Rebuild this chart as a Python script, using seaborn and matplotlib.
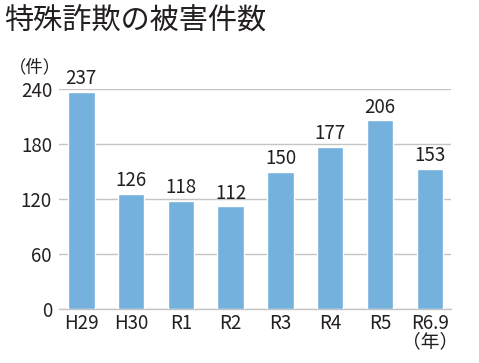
import seaborn as sns
import matplotlib.pyplot as plt
import pandas as pd

# data
years = ["H29", "H30", "R1", "R2", "R3", "R4", "R5", "R6.9\n（年）"]
cases = [237, 126, 118, 112, 150, 177, 206, 153]
yticks = [0, 60, 120, 180, 240]

df = pd.DataFrame({"year": years, "cases": cases})

sns.set_style("white")
plt.rcParams['font.family'] = ['Noto Sans CJK JP', 'DejaVu Sans']
text_color = "#231f20"
grid_color = "#c4c4c4"

fig = plt.figure(figsize=(4.79, 3.63), dpi=100)
ax = fig.add_axes([0.123, 0.149, 0.819, 0.605])

sns.barplot(x="year", y="cases", data=df, color="#74b1dd", width=0.53,
            saturation=1, ax=ax, zorder=3)

ax.set_ylim(0, 240)
ax.set_xlim(-0.45, 7.43)
ax.set_yticks(yticks)
ax.yaxis.grid(True, color=grid_color, linewidth=1, zorder=0)
ax.tick_params(axis='both', length=0, labelsize=13.5, colors=text_color)
ax.tick_params(axis='y', pad=5)
ax.tick_params(axis='x', pad=3)
for lbl in ax.get_xticklabels():
    lbl.set_linespacing(0.85)
    lbl.set_verticalalignment('top')

for s in ["top", "right", "left"]:
    ax.spines[s].set_visible(False)
ax.spines["bottom"].set_color(grid_color)
ax.spines["bottom"].set_linewidth(1)

ax.set_xlabel("")
ax.set_ylabel("")

# value labels above bars
for i, v in enumerate(cases):
    ax.text(i, v + 3, str(v), ha='center', va='bottom', fontsize=13.5,
            color=text_color, clip_on=False)

fig.text(0.018, 0.79, "（件）", fontsize=12.5, color=text_color, ha='left', va='bottom')
fig.text(0.008, 0.94, "特殊詐欺の被害件数", fontsize=21, color=text_color,
         ha='left', va='center')

plt.savefig("out.png", dpi=100)
